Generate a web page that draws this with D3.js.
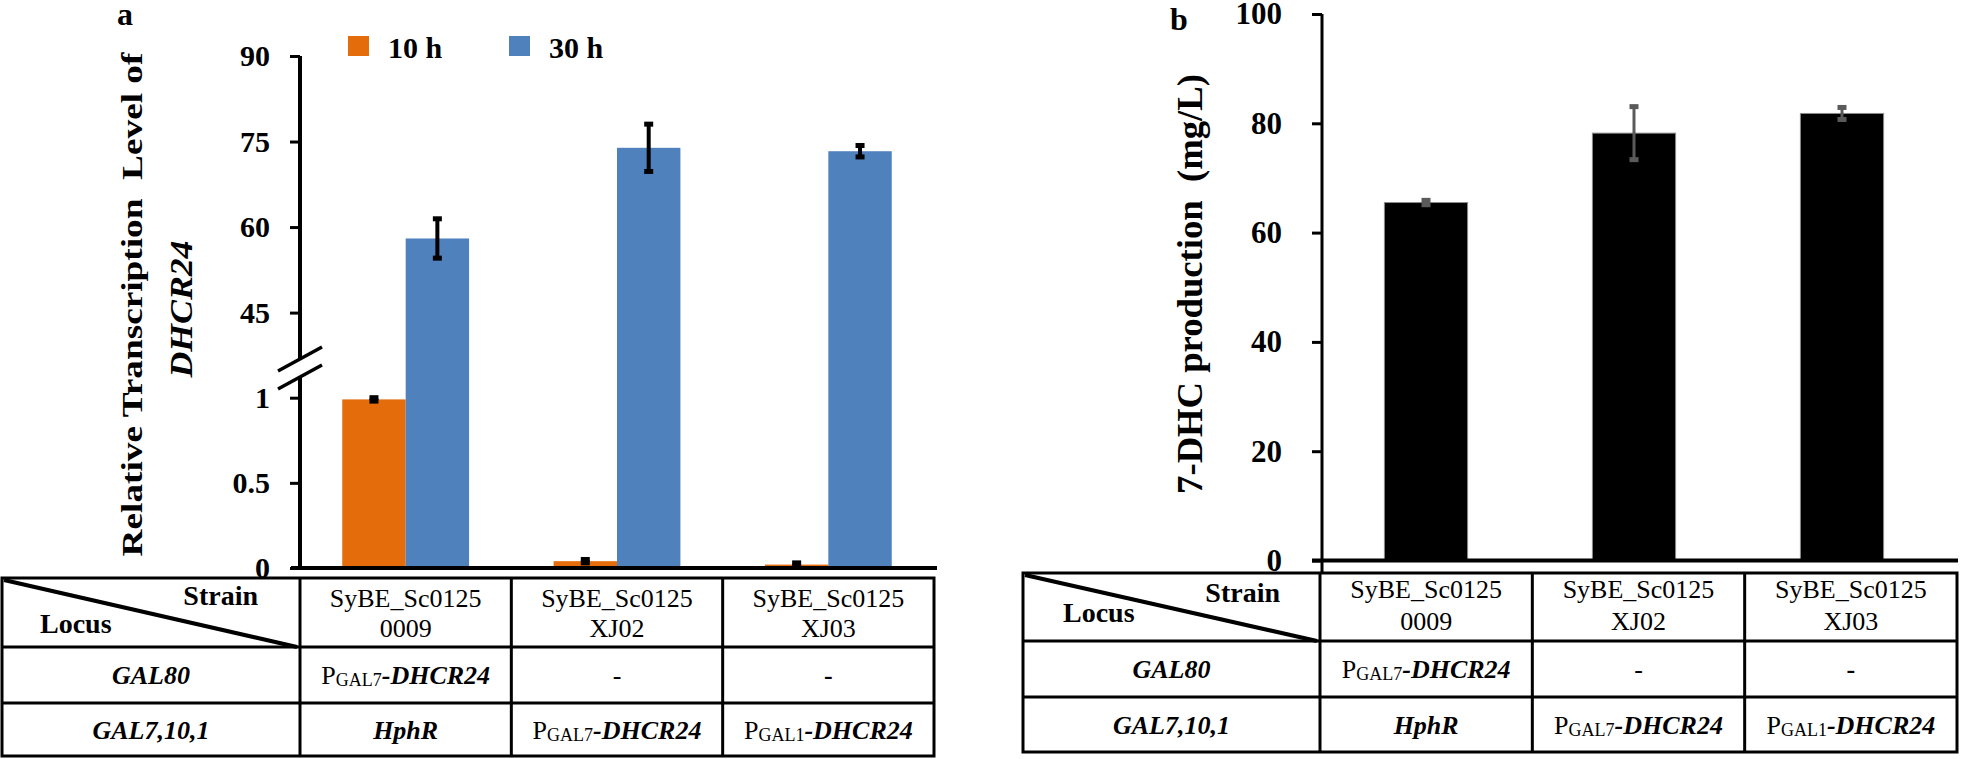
<!DOCTYPE html>
<html><head><meta charset="utf-8">
<script src="https://cdn.jsdelivr.net/npm/d3@7"></script>
<style>
body{margin:0;background:#fff;}
svg{display:block;}
svg text{font-family:"Liberation Serif","Times New Roman",serif !important;}
</style></head><body>
<svg id="chart" width="1961" height="759"></svg>
<script>
// ---------------- DATA ----------------
const strains = ["0009", "XJ02", "XJ03"];
const strainPrefix = ["SyBE_Sc0125", "SyBE_Sc0125", "SyBE_Sc0125"];
const seriesNames = ["10 h", "30 h"];
const transcription10h = [0.99, 0.04, 0.02];
const transcription10hErr = [0.01, 0.01, 0.01];
const transcription30h = [58.0, 73.9, 73.3];
const transcription30hErr = [3.45, 4.15, 1.0];
const ticksLowerA = [0, 0.5, 1];
const ticksUpperA = [45, 60, 75, 90];
const production = [65.5, 78.2, 81.8];
const productionErr = [0.4, 4.85, 1.1];
const ticksB = [0, 20, 40, 60, 80, 100];
const locusNames = ["GAL80", "GAL7,10,1"];
const rowGAL80 = ["P:GAL7", "-", "-b"];
const rowGAL7101 = ["HphR", "P:GAL7", "P:GAL1"];

// ---------------- STYLE ----------------
const FONT = '"Liberation Serif","Times New Roman",serif';
const ORANGE = "#E46C0A", BLUE = "#4F81BD";
const svg = d3.select("#chart").attr("font-family", FONT);

// ---------------- PANEL A ----------------
const axA = 300;
const yA = d3.scaleLinear().domain([0, 1, 45, 90]).range([568, 397.7, 312.6, 56]);
const x0A = d3.scaleBand().domain(strains).range([300, 934]).paddingInner(0.4).paddingOuter(0.2);
const x1A = d3.scaleBand().domain(seriesNames).range([0, x0A.bandwidth()]);
const seriesA = [
  {name: seriesNames[0], vals: transcription10h, errs: transcription10hErr, color: ORANGE},
  {name: seriesNames[1], vals: transcription30h, errs: transcription30hErr, color: BLUE}
];

const gA = svg.append("g");
seriesA.forEach(s => {
  gA.selectAll(null).data(strains).enter().append("rect")
    .attr("x", d => x0A(d) + x1A(s.name))
    .attr("width", x1A.bandwidth())
    .attr("y", (d, i) => yA(s.vals[i]))
    .attr("height", (d, i) => yA(0) - yA(s.vals[i]))
    .attr("fill", s.color);
});

function errBar(g, cx, v, e, y, color, lw, capW, capH) {
  g.append("line").attr("x1", cx).attr("x2", cx).attr("y1", y(v + e)).attr("y2", y(v - e))
    .attr("stroke", color).attr("stroke-width", lw);
  [v + e, v - e].forEach(t => g.append("rect").attr("x", cx - capW / 2).attr("y", y(t) - capH / 2)
    .attr("width", capW).attr("height", capH).attr("fill", color));
}
seriesA.forEach(s => {
  strains.forEach((d, i) => {
    const cx = x0A(d) + x1A(s.name) + x1A.bandwidth() / 2;
    errBar(gA, cx, s.vals[i], s.errs[i], yA, "#000", 4, 9, 5);
  });
});

// y axis with break
const axisA = svg.append("g").attr("transform", `translate(${axA},0)`)
  .call(d3.axisLeft(yA).tickValues(ticksLowerA.concat(ticksUpperA)).tickSize(10).tickPadding(20).tickFormat(d => d));
axisA.select(".domain").remove();
axisA.selectAll(".tick line").attr("stroke", "#000").attr("stroke-width", 3);
axisA.selectAll(".tick text").attr("font-size", 30).attr("font-weight", "bold").attr("fill", "#000");
const brkLo = yA(1) - 20.7, brkHi = yA(1) - 38.7;
svg.append("line").attr("x1", axA).attr("x2", axA).attr("y1", yA(0)).attr("y2", brkLo).attr("stroke", "#000").attr("stroke-width", 4);
svg.append("line").attr("x1", axA).attr("x2", axA).attr("y1", brkHi).attr("y2", yA(90)).attr("stroke", "#000").attr("stroke-width", 4);
[brkLo, brkHi].forEach(b => {
  svg.append("line").attr("x1", axA - 22).attr("x2", axA + 22).attr("y1", b + 12).attr("y2", b - 12)
    .attr("stroke", "#000").attr("stroke-width", 3.5);
});
// x axis line
svg.append("line").attr("x1", axA - 9).attr("x2", 937).attr("y1", yA(0)).attr("y2", yA(0)).attr("stroke", "#000").attr("stroke-width", 4);

// legend
const legA = svg.append("g");
const legX = [348, 509];
seriesA.forEach((s, i) => {
  legA.append("rect").attr("x", legX[i]).attr("y", 36).attr("width", 21).attr("height", 20).attr("fill", s.color);
  legA.append("text").attr("x", legX[i] + 40).attr("y", 58).attr("font-size", 30).attr("font-weight", "bold").text(s.name);
});

// rotated title, stretched along its length to the reference extent
function vTitle(x, y, len, size, italic, str) {
  const t = svg.append("text").attr("text-anchor", "middle").attr("font-size", size).attr("font-weight", "bold")
    .attr("font-style", italic ? "italic" : "normal").text(str);
  const nat = t.node().getComputedTextLength();
  t.attr("transform", `translate(${x},${y}) rotate(-90) scale(${len / nat},1)`);
  return t;
}

svg.append("text").attr("x", 117).attr("y", 25).attr("font-size", 32).attr("font-weight", "bold").text("a");
vTitle(142, 304.5, 504, 29, false, "Relative Transcription\u00a0\u00a0Level of");
vTitle(192, 309, 137, 31, true, "DHCR24");

// ---------------- PANEL B ----------------
const axB = 1322;
const yB = d3.scaleLinear().domain([0, 100]).range([560.5, 14]);
const xB = d3.scaleBand().domain(strains).range([1322, 1946]).paddingInner(0.6).paddingOuter(0.3);
const gB = svg.append("g");
gB.selectAll("rect").data(production).enter().append("rect")
  .attr("x", (d, i) => xB(strains[i])).attr("width", xB.bandwidth())
  .attr("y", d => yB(d)).attr("height", d => yB(0) - yB(d))
  .attr("fill", "#000").attr("stroke", "#8a8a8a").attr("stroke-width", 1);
production.forEach((v, i) => errBar(gB, xB(strains[i]) + xB.bandwidth() / 2, v, productionErr[i], yB, "#5a5a5a", 3, 9, 5));

const axisB = svg.append("g").attr("transform", `translate(${axB},0)`)
  .call(d3.axisLeft(yB).tickValues(ticksB).tickSize(10).tickPadding(30));
axisB.select(".domain").remove();
axisB.selectAll(".tick line").attr("stroke", "#000").attr("stroke-width", 3);
axisB.selectAll(".tick text").attr("font-size", 31).attr("font-weight", "bold").attr("fill", "#000");
svg.append("line").attr("x1", axB).attr("x2", axB).attr("y1", yB(0) + 20).attr("y2", yB(100)).attr("stroke", "#000").attr("stroke-width", 3);
svg.append("line").attr("x1", axB - 10).attr("x2", 1958).attr("y1", yB(0)).attr("y2", yB(0)).attr("stroke", "#000").attr("stroke-width", 4);

svg.append("text").attr("x", 1170).attr("y", 30).attr("font-size", 32).attr("font-weight", "bold").text("b");
vTitle(1202, 284, 420, 35, false, "7-DHC production\u00a0\u00a0(mg/L)");

// ---------------- TABLES ----------------
function drawTable(cfg) {
  const g = svg.append("g");
  const colX = d3.scaleBand().domain(strains).range([cfg.col1, cfg.right]);
  const edges = [cfg.left, cfg.col1].concat(strains.map(s => colX(s) + colX.bandwidth()));
  const rows = cfg.rows;
  g.append("rect").attr("x", cfg.left).attr("y", rows[0]).attr("width", cfg.right - cfg.left).attr("height", rows[3] - rows[0])
    .attr("fill", "#fff").attr("stroke", "#000").attr("stroke-width", 3);
  edges.slice(1, -1).forEach(x => g.append("line").attr("x1", x).attr("x2", x).attr("y1", rows[0]).attr("y2", rows[3]).attr("stroke", "#000").attr("stroke-width", 3));
  rows.slice(1, -1).forEach(y => g.append("line").attr("x1", cfg.left).attr("x2", cfg.right).attr("y1", y).attr("y2", y).attr("stroke", "#000").attr("stroke-width", 3));
  // diagonal
  g.append("line").attr("x1", cfg.left + 2).attr("y1", rows[0] + 2).attr("x2", cfg.col1 - 3).attr("y2", rows[1])
    .attr("stroke", "#000").attr("stroke-width", 4);
  g.append("text").attr("x", cfg.col1 - cfg.strainRight).attr("y", rows[0] + cfg.strainBase).attr("text-anchor", "end")
    .attr("font-size", 28).attr("font-weight", "bold").text("Strain");
  g.append("text").attr("x", cfg.left + cfg.locusLeft).attr("y", rows[0] + cfg.locusBase)
    .attr("font-size", 28).attr("font-weight", "bold").text("Locus");
  // strain headers
  strains.forEach((s, i) => {
    const cx = colX(s) + colX.bandwidth() / 2;
    g.append("text").attr("x", cx).attr("y", rows[0] + cfg.h1).attr("text-anchor", "middle").attr("font-size", 26).text(strainPrefix[i]);
    g.append("text").attr("x", cx).attr("y", rows[0] + cfg.h2).attr("text-anchor", "middle").attr("font-size", 26).text(s);
  });
  const c0 = (cfg.left + cfg.col1) / 2;
  [rowGAL80, rowGAL7101].forEach((row, r) => {
    const yb = (rows[r + 1] + rows[r + 2]) / 2 + 9;
    g.append("text").attr("x", c0).attr("y", yb).attr("text-anchor", "middle").attr("font-size", 26)
      .attr("font-weight", "bold").attr("font-style", "italic").text(locusNames[r]);
    row.forEach((cell, i) => {
      const cx = colX(strains[i]) + colX.bandwidth() / 2;
      const t = g.append("text").attr("x", cx).attr("y", yb).attr("text-anchor", "middle").attr("font-size", 26);
      if (cell.startsWith("P:")) {
        t.append("tspan").text("P");
        t.append("tspan").attr("font-size", 18).attr("dy", 2).text(cell.slice(2));
        t.append("tspan").attr("dy", -2).attr("font-weight", "bold").attr("font-style", "italic").text("-DHCR24");
      } else if (cell.startsWith("-")) {
        t.attr("font-weight", cell === "-b" ? "bold" : "normal").text("-");
      } else {
        t.attr("font-weight", "bold").attr("font-style", "italic").text(cell);
      }
    });
  });
}
drawTable({left: 2, col1: 300, right: 934, rows: [578, 647, 703, 756], strainRight: 42, strainBase: 27, locusLeft: 38, locusBase: 55, h1: 29, h2: 59});
drawTable({left: 1023, col1: 1320, right: 1957, rows: [573, 641, 697, 752], strainRight: 40, strainBase: 29, locusLeft: 40, locusBase: 49, h1: 25, h2: 57});
</script>
</body></html>
